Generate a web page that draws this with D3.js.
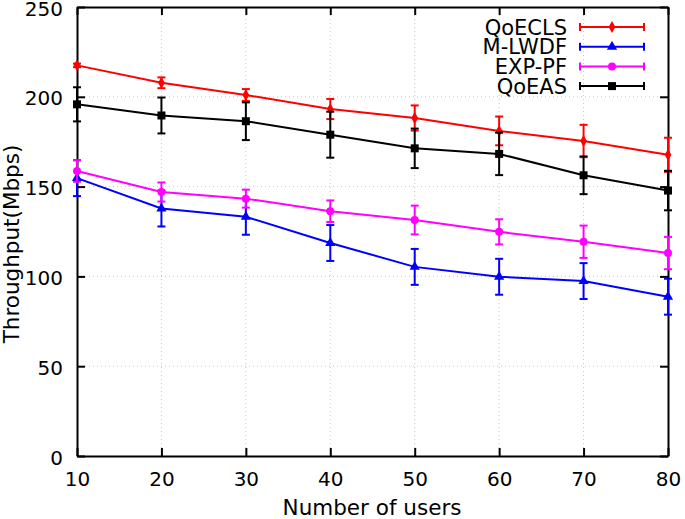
<!DOCTYPE html>
<html><head><meta charset="utf-8">
<script src="https://cdn.jsdelivr.net/npm/d3@7"></script>
<style>body{margin:0;background:#fff}svg{display:block}text{font-family:"DejaVu Sans",sans-serif}</style>
</head><body><svg id="c" width="685" height="519"></svg>
<script>
const users = [10, 20, 30, 40, 50, 60, 70, 80];
const xTicks = [10, 20, 30, 40, 50, 60, 70, 80];
const yTicks = [0, 50, 100, 150, 200, 250];
const seriesNames = ["QoECLS", "M-LWDF", "EXP-PF", "QoEAS"];
const qoeclsVal = [217.5, 207.8, 201, 193.2, 188.2, 181, 175.4, 167.7];
const qoeclsErr = [1, 3, 3.3, 5.6, 7, 8, 9, 9.5];
const mlwdfVal = [154.7, 137.8, 133.2, 118.6, 105.3, 99.8, 97.4, 88.7];
const mlwdfErr = [10, 10, 10, 10, 10, 10, 10, 10];
const exppfVal = [158.7, 147, 143.3, 136.3, 131.4, 124.8, 119.3, 113];
const exppfErr = [6, 5.3, 5, 6, 8, 7, 9, 9];
const qoeasVal = [195.8, 189.6, 186.4, 178.9, 171.3, 168.2, 156.3, 147.8];
const qoeasErr = [9.5, 10, 10.5, 12.8, 11, 11.8, 10.5, 11];
const colors = ["#ff0000", "#0000ff", "#ff00ff", "#000000"];
const markers = [d3.symbolDiamond, d3.symbolTriangle, d3.symbolCircle, d3.symbolSquare];
const markerSizes = [40, 45, 50, 64];

const series = [
  {name: seriesNames[0], v: qoeclsVal, e: qoeclsErr},
  {name: seriesNames[1], v: mlwdfVal, e: mlwdfErr},
  {name: seriesNames[2], v: exppfVal, e: exppfErr},
  {name: seriesNames[3], v: qoeasVal, e: qoeasErr}
];

const L = 77, R = 668, T = 7, B = 456;
const svg = d3.select("#c");
const x = d3.scaleLinear().domain([10, 80]).range([L, R]);
const y = d3.scaleLinear().domain([0, 250]).range([B, T]);

// grid
const grid = svg.append("g").attr("stroke", "#c8c8c8").attr("stroke-width", 1).attr("stroke-dasharray", "1,3");
xTicks.slice(1, -1).forEach(t => grid.append("line").attr("x1", x(t)).attr("x2", x(t)).attr("y1", T).attr("y2", B));
yTicks.slice(1, -1).forEach(t => grid.append("line").attr("x1", L).attr("x2", R).attr("y1", y(t)).attr("y2", y(t)));

// axes
const fs = "20px";
const axB = svg.append("g").attr("transform", `translate(0,${B})`)
  .call(d3.axisBottom(x).tickValues(xTicks).tickSizeInner(-8).tickSizeOuter(0).tickPadding(16));
const axL = svg.append("g").attr("transform", `translate(${L},0)`)
  .call(d3.axisLeft(y).tickValues(yTicks).tickSizeInner(-8).tickSizeOuter(0).tickPadding(14));
const axT = svg.append("g").attr("transform", `translate(0,${T})`)
  .call(d3.axisTop(x).tickValues(xTicks).tickSizeInner(-8).tickSizeOuter(0).tickFormat(""));
const axR = svg.append("g").attr("transform", `translate(${R},0)`)
  .call(d3.axisRight(y).tickValues(yTicks).tickSizeInner(-8).tickSizeOuter(0).tickFormat(""));
[axB, axL, axT, axR].forEach(a => {
  a.select(".domain").attr("stroke", "#000").attr("stroke-width", 2);
  a.selectAll(".tick line").attr("stroke", "#000").attr("stroke-width", 2);
  a.selectAll("text").attr("font-size", fs).attr("fill", "#000").style("font-family", "DejaVu Sans");
});
axB.selectAll("text").attr("dy", "0.71em");
axL.selectAll("text").attr("dy", "0.4em");

// axis titles
svg.append("text").attr("x", 372).attr("y", 515).attr("text-anchor", "middle")
  .attr("font-size", "21.5px").text("Number of users");
svg.append("text").attr("transform", `translate(19,${244}) rotate(-90)`).attr("text-anchor", "middle")
  .attr("font-size", "21.5px").text("Throughput(Mbps)");

// data
const plot = svg.append("g");
series.forEach((s, i) => {
  const g = plot.append("g").attr("stroke", colors[i]).attr("fill", colors[i]);
  const line = d3.line().x((d, j) => x(users[j])).y(d => y(d));
  g.append("path").datum(s.v).attr("d", line).attr("fill", "none").attr("stroke-width", 2);
  s.v.forEach((v, j) => {
    const cx = x(users[j]);
    const y1 = y(v - s.e[j]), y2 = y(v + s.e[j]);
    g.append("line").attr("x1", cx).attr("x2", cx).attr("y1", y1).attr("y2", y2).attr("stroke-width", 2);
    g.append("line").attr("x1", cx - 4).attr("x2", cx + 4).attr("y1", y1).attr("y2", y1).attr("stroke-width", 2);
    g.append("line").attr("x1", cx - 4).attr("x2", cx + 4).attr("y1", y2).attr("y2", y2).attr("stroke-width", 2);
    g.append("path").attr("d", d3.symbol().type(markers[i]).size(markerSizes[i])())
      .attr("transform", `translate(${cx},${y(v)})`).attr("stroke", "none");
  });
});

// legend
const lg = svg.append("g");
seriesNames.forEach((n, i) => {
  const ly = 27 + i * 19.7;
  lg.append("text").attr("x", 567).attr("y", ly).attr("dy", "0.36em").attr("text-anchor", "end")
    .attr("font-size", "21px").text(n);
  const g = lg.append("g").attr("stroke", colors[i]).attr("fill", colors[i]);
  g.append("line").attr("x1", 580).attr("x2", 644).attr("y1", ly).attr("y2", ly).attr("stroke-width", 2);
  g.append("line").attr("x1", 580).attr("x2", 580).attr("y1", ly - 4).attr("y2", ly + 4).attr("stroke-width", 2);
  g.append("line").attr("x1", 644).attr("x2", 644).attr("y1", ly - 4).attr("y2", ly + 4).attr("stroke-width", 2);
  g.append("path").attr("d", d3.symbol().type(markers[i]).size(markerSizes[i])())
    .attr("transform", `translate(612,${ly})`).attr("stroke", "none");
});
</script></body></html>
